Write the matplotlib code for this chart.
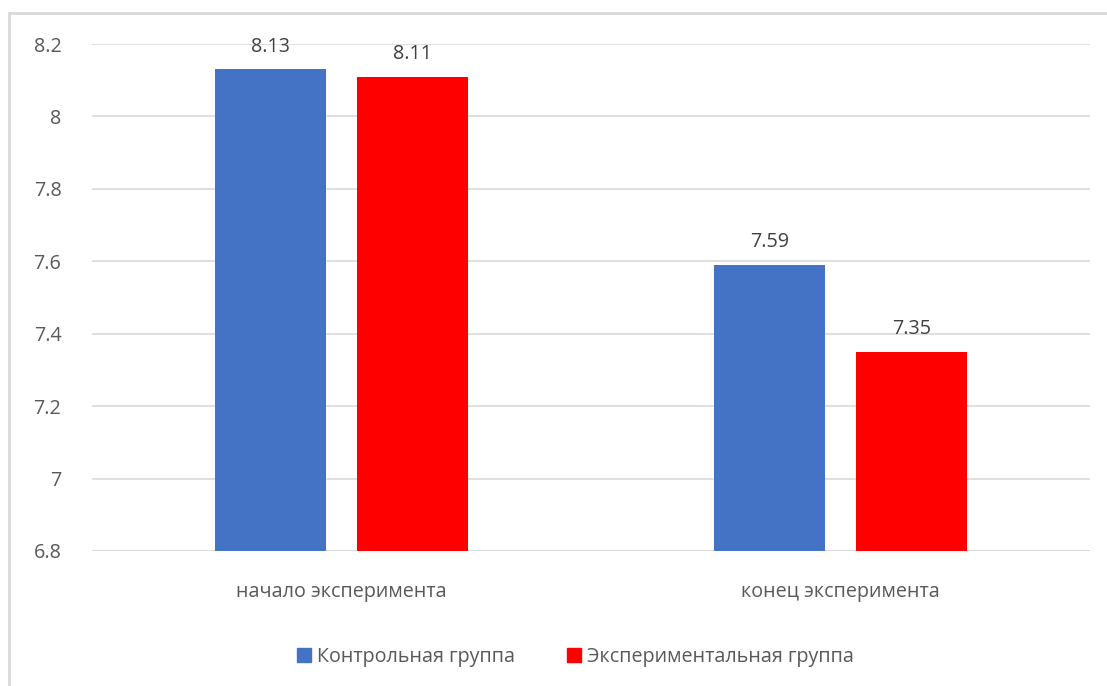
import matplotlib.pyplot as plt
import numpy as np
from matplotlib.patches import Rectangle
from matplotlib.lines import Line2D

categorias = ['начало эксперимента', 'конец эксперимента']
controle = [8.13, 7.59]
experimental = [8.11, 7.35]
series = ['Контрольная группа', 'Экспериментальная группа']
cores = ['#4472C4', '#FF0000']
yticks = [6.8, 7, 7.2, 7.4, 7.6, 7.8, 8, 8.2]
ytick_labels = ['6.8', '7', '7.2', '7.4', '7.6', '7.8', '8', '8.2']

plt.rcParams['font.family'] = ['Open Sans', 'DejaVu Sans']
cinza = '#595959'
fs = 14.2

fig = plt.figure(figsize=(11.07, 6.86), dpi=100)
# borda do gráfico (estilo Excel)
fig.add_artist(Rectangle((9 / 1107, -0.1), 1.2, (686 - 13) / 686 + 0.1,
                         transform=fig.transFigure, fill=False,
                         edgecolor='#d9d9d9', linewidth=2))

ax = fig.add_axes([92 / 1107, 1 - 551 / 686, (1090 - 92) / 1107, (551 - 44) / 686])

x = np.arange(len(categorias))
w = 0.2224
off = 0.142
b1 = ax.bar(x - off, controle, w, color=cores[0], zorder=3)
b2 = ax.bar(x + off, experimental, w, color=cores[1], zorder=3)

for bars, vals in [(b1, controle), (b2, experimental)]:
    for bar, v in zip(bars, vals):
        ax.text(bar.get_x() + bar.get_width() / 2, v + 0.035, f'{v:.2f}',
                ha='center', va='bottom', fontsize=fs, color='#404040')

ax.set_xlim(-0.5, 1.5)
ax.set_ylim(6.8, 8.2)
ax.set_yticks(yticks)
ax.set_yticklabels(ytick_labels)
ax.set_xticks(x)
ax.set_xticklabels(categorias)
ax.tick_params(axis='both', length=0, labelsize=fs, labelcolor=cinza)
ax.tick_params(axis='y', pad=22)
ax.tick_params(axis='x', pad=22)
ax.grid(axis='y', color='#d9d9d9', linewidth=1.2, zorder=0)
for s in ax.spines.values():
    s.set_visible(False)
ax.axhline(6.8, color='#d9d9d9', linewidth=1.2, zorder=1)

handles = [Line2D([], [], marker='s', linestyle='none', markersize=10,
                  markerfacecolor=c, markeredgecolor=c) for c in cores]
fig.legend(handles, series, loc='center', bbox_to_anchor=(0.514, 1 - 657 / 686),
           ncol=2, frameon=False, fontsize=fs, labelcolor=cinza,
           handletextpad=-0.35, columnspacing=2.0)

plt.savefig('out.png', dpi=100)
